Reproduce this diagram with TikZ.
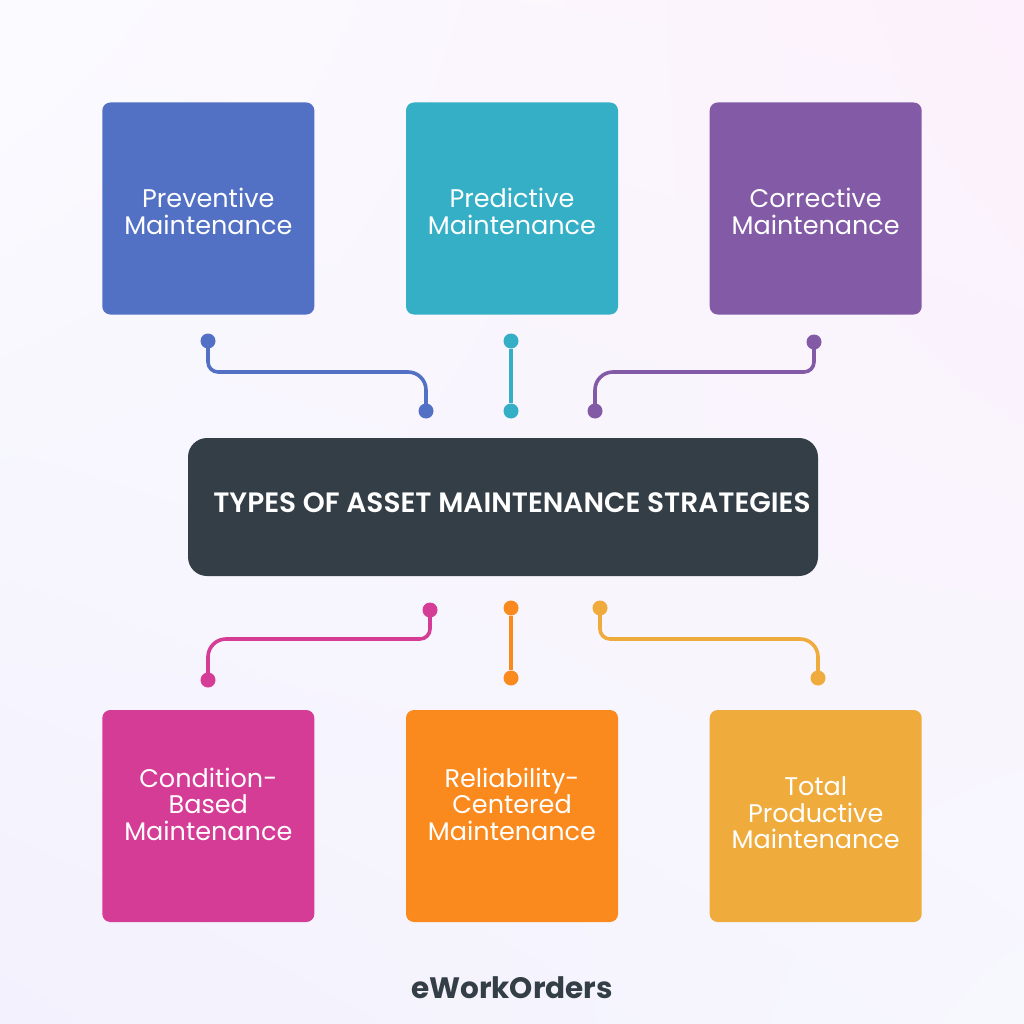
\documentclass[tikz,border=0pt]{standalone}
\usepackage{fontspec}
\usetikzlibrary{shadings}
\setmainfont{Poppins}
\newfontfamily\popsemi{Poppins SemiBold}
\newfontfamily\popbold{Poppins Bold}
\definecolor{cblue}{HTML}{5270C4}
\definecolor{cteal}{HTML}{34AFC6}
\definecolor{cpurple}{HTML}{825AA6}
\definecolor{cpink}{HTML}{D43C96}
\definecolor{corange}{HTML}{FB8A1E}
\definecolor{cgold}{HTML}{EFAB3C}
\definecolor{cdark}{HTML}{343E47}
\definecolor{bgtl}{HTML}{FBFBFF}
\definecolor{bgtr}{HTML}{FCF1FC}
\definecolor{bgbl}{HTML}{F3F1FD}
\definecolor{bgbr}{HTML}{F7F7FE}
\tikzset{
  card/.style={fill=#1,rounded corners=8pt,minimum width=212pt,minimum height=212pt,inner sep=0pt},
  cardtext/.style={text=white,align=center,inner sep=0pt,font=\fontsize{25.5}{26.5}\selectfont},
  dot/.style={circle,inner sep=0pt,minimum size=15pt,fill=#1},
  link/.style={draw=#1,line width=3.6pt},
}
\begin{document}
\begin{tikzpicture}[x=1pt,y=-1pt]
\useasboundingbox (0,0) rectangle (1024,1024);
\shade[upper left=bgtl,upper right=bgtr,lower left=bgbl,lower right=bgbr] (0,0) rectangle (1024,1024);
% cards
\node[card=cblue] (c1) at (208.3,208.5) {};
\node[card=cteal] (c2) at (512,208.5) {};
\node[card=cpurple] (c3) at (815.7,208.5) {};
\node[card=cpink] (c4) at (208.3,816) {};
\node[card=corange] (c5) at (512,816) {};
\node[card=cgold] (c6) at (815.7,816) {};
% card labels
\node[cardtext] (t1) at (208.3,211.5) {Preventive\\Maintenance};
\node[cardtext] (t2) at (512,211.5) {Predictive\\Maintenance};
\node[cardtext] (t3) at (815.7,211.5) {Corrective\\Maintenance};
\node[cardtext] (t4) at (208.3,804) {Condition-\\Based\\Maintenance};
\node[cardtext] (t5) at (512,804) {Reliability-\\Centered\\Maintenance};
\node[cardtext] (t6) at (815.7,813) {Total\\Productive\\Maintenance};
% centre
\node[fill=cdark,rounded corners=19pt,minimum width=630pt,minimum height=138pt,inner sep=0pt] (hub) at (503,507) {};
\node[text=white,font=\popsemi\fontsize{28}{30}\selectfont,anchor=center] (title) at (512,503) {TYPES OF ASSET MAINTENANCE STRATEGIES};
% dots
\node[dot=cblue] (a1) at (208,341) {};
\node[dot=cblue] (b1) at (426,411) {};
\node[dot=cteal] (a2) at (511,341) {};
\node[dot=cteal] (b2) at (511,411) {};
\node[dot=cpurple] (a3) at (814,342) {};
\node[dot=cpurple] (b3) at (595,411) {};
\node[dot=cpink] (a4) at (430,610) {};
\node[dot=cpink] (b4) at (208,680) {};
\node[dot=corange] (a5) at (511,608) {};
\node[dot=corange] (b5) at (511,678) {};
\node[dot=cgold] (a6) at (600,608) {};
\node[dot=cgold] (b6) at (818,678) {};
% connectors
\draw[link=cblue,rounded corners=10pt] (a1.center) -- (a1|-0,372) [rounded corners=18pt] -- (b1|-0,372) -- (b1.center);
\draw[link=cteal] (a2) -- (b2);
\draw[link=cpurple,rounded corners=10pt] (a3.center) -- (a3|-0,372) [rounded corners=18pt] -- (b3|-0,372) -- (b3.center);
\draw[link=cpink,rounded corners=10pt] (a4.center) -- (a4|-0,639) [rounded corners=18pt] -- (b4|-0,639) -- (b4.center);
\draw[link=corange] (a5) -- (b5);
\draw[link=cgold,rounded corners=10pt] (a6.center) -- (a6|-0,639) [rounded corners=18pt] -- (b6|-0,639) -- (b6.center);
% brand
\node[text=cdark,font=\popbold\fontsize{29.5}{31}\selectfont] (brand) at (512,988) {eWorkOrders};
\end{tikzpicture}
\end{document}
